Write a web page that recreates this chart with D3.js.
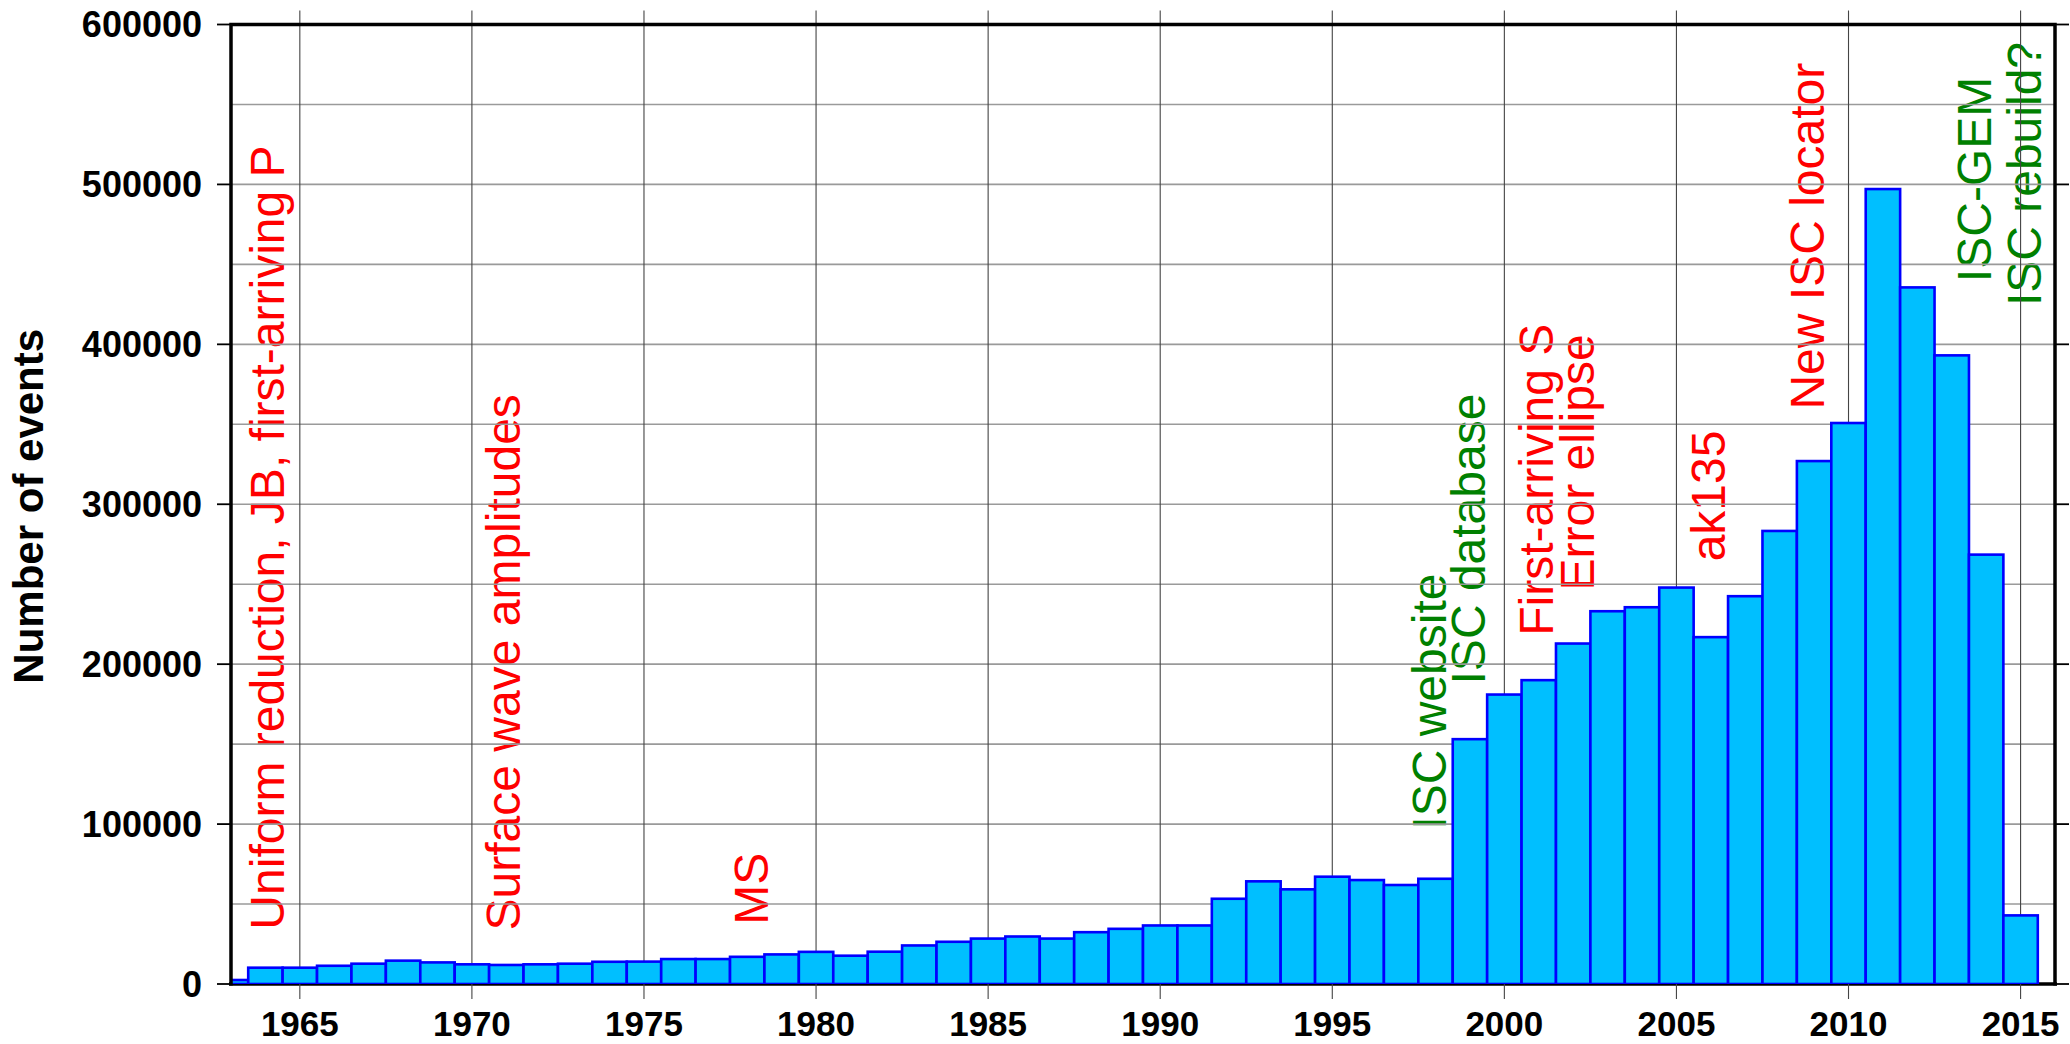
<!DOCTYPE html>
<html>
<head>
<meta charset="utf-8">
<script src="https://cdn.jsdelivr.net/npm/d3@7"></script>
<style>
  body { margin: 0; background: #fff; }
  text { font-family: "Liberation Sans", Arial, Helvetica, sans-serif; }
</style>
</head>
<body>
<script>
const w = 2070;
const h = 1044;

// events per year, ISC bulletin
const years = [1963, 1964, 1965, 1966, 1967, 1968, 1969, 1970, 1971, 1972,
  1973, 1974, 1975, 1976, 1977, 1978, 1979, 1980, 1981, 1982,
  1983, 1984, 1985, 1986, 1987, 1988, 1989, 1990, 1991, 1992,
  1993, 1994, 1995, 1996, 1997, 1998, 1999, 2000, 2001, 2002,
  2003, 2004, 2005, 2006, 2007, 2008, 2009, 2010, 2011, 2012,
  2013, 2014, 2015];
const counts = [2500, 10200, 10200, 11400, 12700, 14600, 13500, 12300, 11900, 12300,
  12700, 13900, 14000, 15600, 15600, 17000, 18500, 20100, 17700, 20200,
  24100, 26400, 28400, 29700, 28400, 32400, 34500, 36600, 36600, 53300,
  64200, 59200, 67100, 65000, 61900, 65800, 153100, 181000, 190000, 212900,
  233100, 235600, 247900, 216900, 242500, 283300, 327000, 350800, 497100, 435600,
  393100, 268500, 42900];

const xTicks = [1965, 1970, 1975, 1980, 1985, 1990, 1995, 2000, 2005, 2010, 2015];
const yTicks = [0, 100000, 200000, 300000, 400000, 500000, 600000];
const yGrid = [50000, 100000, 150000, 200000, 250000, 300000, 350000, 400000, 450000, 500000, 550000];

// annotations: text, year (centre of the rotated text), value where text starts, kind
const noteText = ['Uniform reduction, JB, first-arriving P', 'Surface wave amplitudes', 'MS',
  'ISC website', 'ISC database', 'First-arriving S', 'Error ellipse', 'ak135',
  'New ISC locator', 'ISC-GEM', 'ISC rebuild?'];
const noteYear = [1964.05, 1970.9, 1978.1, 1997.8, 1998.95, 2000.9, 2002.1, 2005.9, 2008.8, 2013.65, 2015.1];
const noteStart = [34000, 33500, 37000, 96500, 187300, 217800, 246100, 264300, 359200, 438900, 423900];
const noteKind = ['method', 'method', 'method', 'service', 'service', 'method', 'method', 'method',
  'method', 'service', 'service'];

document.addEventListener('DOMContentLoaded', function(){

	const x = d3.scaleLinear().domain([1963, 2016]).range([231, 2055]);
	const y = d3.scaleLinear().domain([0, 600000]).range([984, 24.5]);

	const svg = d3.select('body')
		.append('svg')
		.attr('width', w)
		.attr('height', h);

	svg.append('clipPath').attr('id', 'plot')
		.append('rect')
		.attr('x', x(1963)).attr('y', y(600000))
		.attr('width', x(2016) - x(1963)).attr('height', y(0) - y(600000));

	// annotations (drawn under the grid)
	svg.selectAll('text.note')
		.data(noteText)
		.enter()
		.append('text')
		.attr('class', 'note')
		.attr('transform', (d, i) => `translate(${x(noteYear[i])},${y(noteStart[i])}) rotate(-90)`)
		.attr('dy', '0.358em')
		.style('font-size', '48px')
		.style('fill', (d, i) => noteKind[i] == 'service' ? '#008000' : '#ff0000')
		.text(d => d);

	// grid
	svg.selectAll('line.hgrid')
		.data(yGrid)
		.enter()
		.append('line')
		.attr('x1', x(1963)).attr('x2', x(2016))
		.attr('y1', d => y(d)).attr('y2', d => y(d))
		.style('stroke', '#9a9a9a')
		.style('stroke-width', 1.6);

	svg.selectAll('line.vgrid')
		.data(xTicks)
		.enter()
		.append('line')
		.attr('x1', d => x(d)).attr('x2', d => x(d))
		.attr('y1', y(600000) - 14).attr('y2', y(0))
		.style('stroke', '#444')
		.style('stroke-width', 1.1);

	// bottom frame goes under the bars
	svg.append('line')
		.attr('x1', x(1963) - 2).attr('x2', x(2016) + 2)
		.attr('y1', y(0)).attr('y2', y(0))
		.style('stroke', '#000')
		.style('stroke-width', 3.5);

	svg.append('g')
		.attr('clip-path', 'url(#plot)')
		.selectAll('rect')
		.data(counts)
		.enter()
		.append('rect')
		.attr('x', (d, i) => x(years[i] - 0.5))
		.attr('y', d => y(d))
		.attr('width', (d, i) => x(years[i] + 0.5) - x(years[i] - 0.5))
		.attr('height', d => y(0) - y(d))
		.style('fill', '#00bfff')
		.style('stroke', '#0000ff')
		.style('stroke-width', 2.6);

	// ticks outside on all four sides
	svg.selectAll('line.ytl')
		.data(yTicks)
		.enter()
		.append('line')
		.attr('x1', x(1963) - 14).attr('x2', x(1963))
		.attr('y1', d => y(d)).attr('y2', d => y(d))
		.style('stroke', '#000').style('stroke-width', 1.8);
	svg.selectAll('line.ytr')
		.data(yTicks)
		.enter()
		.append('line')
		.attr('x1', x(2016)).attr('x2', x(2016) + 14)
		.attr('y1', d => y(d)).attr('y2', d => y(d))
		.style('stroke', '#000').style('stroke-width', 1.8);
	svg.selectAll('line.xtb')
		.data(xTicks)
		.enter()
		.append('line')
		.attr('x1', d => x(d)).attr('x2', d => x(d))
		.attr('y1', y(0)).attr('y2', y(0) + 15)
		.style('stroke', '#444').style('stroke-width', 1.1);

	// rest of the frame
	svg.append('path')
		.attr('d', `M${x(1963)},${y(0) + 1.5}V${y(600000)}H${x(2016)}V${y(0) + 1.5}`)
		.style('fill', 'none')
		.style('stroke', '#000')
		.style('stroke-width', 3.5);

	// tick labels
	svg.selectAll('text.ylab')
		.data(yTicks)
		.enter()
		.append('text')
		.attr('x', 202)
		.attr('y', d => y(d))
		.attr('dy', '0.36em')
		.attr('text-anchor', 'end')
		.style('font-size', '36px')
		.style('font-weight', 'bold')
		.text(d => d);

	svg.selectAll('text.xlab')
		.data(xTicks)
		.enter()
		.append('text')
		.attr('x', d => x(d))
		.attr('y', 1036)
		.attr('text-anchor', 'middle')
		.style('font-size', '35px')
		.style('font-weight', 'bold')
		.text(d => d);

	svg.append('text')
		.attr('transform', `translate(43,${(y(0) + y(600000)) / 2 + 2}) rotate(-90)`)
		.attr('text-anchor', 'middle')
		.style('font-size', '42px')
		.style('font-weight', 'bold')
		.text('Number of events');

});
</script>
</body>
</html>
